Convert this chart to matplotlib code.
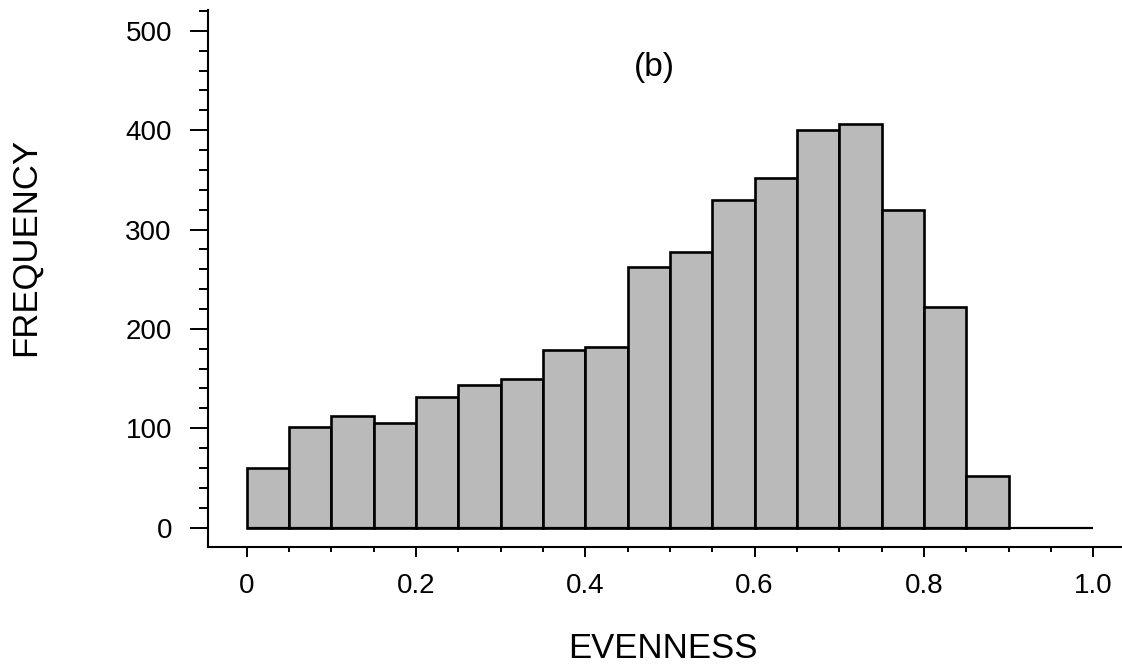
import matplotlib
matplotlib.use("Agg")
import matplotlib.pyplot as plt
from matplotlib.ticker import MultipleLocator

plt.rcParams['font.family'] = ['Liberation Sans', 'DejaVu Sans']

# data
bin_edges = [0.00, 0.05, 0.10, 0.15, 0.20, 0.25, 0.30, 0.35, 0.40, 0.45,
             0.50, 0.55, 0.60, 0.65, 0.70, 0.75, 0.80, 0.85, 0.90]
frequency = [60, 101, 112, 105, 131, 143, 150, 179, 182, 262,
             277, 330, 352, 400, 406, 320, 222, 52]
x_ticks = [0.0, 0.2, 0.4, 0.6, 0.8, 1.0]
x_tick_labels = ['0', '0.2', '0.4', '0.6', '0.8', '1.0']
y_ticks = [0, 100, 200, 300, 400, 500]
y_tick_labels = ['0', '100', '200', '300', '400', '500']
range_end = 1.0

fig = plt.figure(figsize=(11.22, 6.69), dpi=100)
ax = fig.add_axes([208/1122, 122.3/669, 1 - 208/1122, (659 - 122.3)/669])

lefts = bin_edges[:-1]
widths = [b - a for a, b in zip(bin_edges[:-1], bin_edges[1:])]
ax.bar(lefts, frequency, width=widths, align='edge', color='#bababa',
       edgecolor='black', linewidth=1.9, zorder=2)
ax.hlines(0, bin_edges[0], range_end, color='black', linewidth=1.6, zorder=4)

ax.set_xlim(-0.0457, 1.034)
ax.set_ylim(-19.3, 521)

for s in ['top', 'right']:
    ax.spines[s].set_visible(False)
for s in ['left', 'bottom']:
    ax.spines[s].set_linewidth(1.5)

ax.set_xticks(x_ticks)
ax.set_xticklabels(x_tick_labels)
ax.set_yticks(y_ticks)
ax.set_yticklabels(y_tick_labels)
ax.xaxis.set_minor_locator(MultipleLocator(0.05))
ax.yaxis.set_minor_locator(MultipleLocator(20))

ax.tick_params(axis='y', which='major', direction='out', length=13, width=1.4,
               pad=13, labelsize=20)
ax.tick_params(axis='y', which='minor', direction='out', length=6.5, width=1.4)
ax.tick_params(axis='x', which='major', direction='out', length=7, width=1.4,
               pad=12, labelsize=20)
ax.tick_params(axis='x', which='minor', direction='out', length=3.6, width=1.4)

fig.text(654/1122, 1 - 67.5/669, '(b)', fontsize=24, ha='center', va='center')
fig.text(25/1122, 1 - 247/669, 'FREQUENCY', fontsize=25, rotation=90,
         ha='center', va='center')
fig.text(663/1122, 1 - 649/669, 'EVENNESS', fontsize=25, ha='center', va='center')

fig.savefig('out.png', dpi=100)
